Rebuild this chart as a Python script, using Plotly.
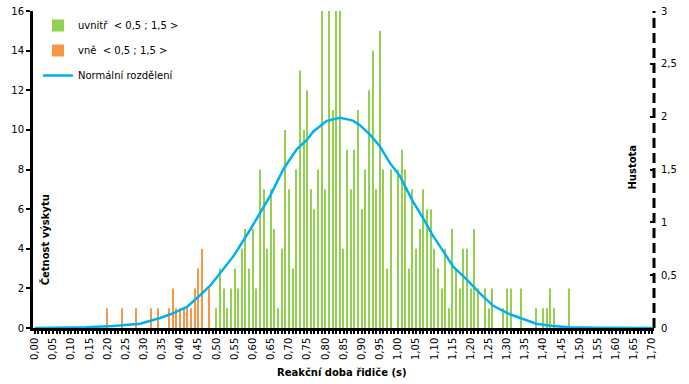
import plotly.graph_objects as go

# ---- data ----
bins = [round(i * 0.01, 2) for i in range(171)]  # 0.00 .. 1.70
counts = [
    0, 0, 0, 0, 0, 0, 0, 0, 0, 0,        # 0.00-0.09
    0, 0, 0, 0, 0, 0, 0, 0, 0, 0,        # 0.10-0.19
    1, 0, 0, 0, 1, 0, 0, 0, 1, 0,        # 0.20-0.29
    0, 0, 1, 0, 1, 0, 0, 1, 2, 1,        # 0.30-0.39
    1, 1, 1, 1, 2, 3, 4, 0, 2, 0,        # 0.40-0.49
    1, 3, 2, 1, 2, 3, 2, 4, 5, 3,        # 0.50-0.59
    5, 2, 8, 7, 4, 7, 5, 1, 4, 10,       # 0.60-0.69
    7, 3, 8, 13, 10, 12, 7, 6, 8, 16,    # 0.70-0.79
    7, 16, 11, 16, 16, 4, 9, 7, 9, 11,   # 0.80-0.89
    6, 8, 12, 14, 7, 15, 8, 3, 8, 0,     # 0.90-0.99
    8, 9, 8, 3, 7, 4, 5, 7, 6, 6,        # 1.00-1.09
    4, 3, 2, 4, 1, 5, 3, 2, 4, 4,        # 1.10-1.19
    2, 5, 2, 0, 2, 1, 2, 0, 0, 1,        # 1.20-1.29
    2, 2, 0, 0, 2, 0, 0, 0, 1, 0,        # 1.30-1.39
    1, 1, 2, 1, 0, 0, 0, 2, 0, 0,        # 1.40-1.49
    0, 0, 0, 0, 0, 0, 0, 0, 0, 0,        # 1.50-1.59
    0, 0, 0, 0, 0, 0, 0, 0, 0, 0,        # 1.60-1.69
    0,                                    # 1.70
]
inside_low, inside_high = 0.50, 1.50

density_x = [0.00, 0.10, 0.143, 0.217, 0.29, 0.345, 0.382, 0.419, 0.446, 0.455,
             0.483, 0.51, 0.547, 0.593, 0.639, 0.648, 0.684, 0.721, 0.749, 0.767,
             0.804, 0.840, 0.868, 0.877, 0.895, 0.923, 0.950, 0.978, 1.005, 1.039,
             1.069, 1.097, 1.124, 1.152, 1.189, 1.225, 1.253, 1.262, 1.308, 1.345,
             1.381, 1.427, 1.473, 1.55, 1.70]
density_y = [0.0, 0.002, 0.006, 0.02, 0.04, 0.095, 0.14, 0.20, 0.28, 0.31,
             0.40, 0.52, 0.68, 0.93, 1.20, 1.25, 1.50, 1.69, 1.78, 1.86,
             1.96, 1.99, 1.97, 1.96, 1.92, 1.83, 1.72, 1.56, 1.44, 1.21,
             1.04, 0.87, 0.73, 0.58, 0.46, 0.33, 0.24, 0.21, 0.13, 0.085,
             0.04, 0.02, 0.006, 0.002, 0.0]

x_tick_vals = [round(i * 0.05, 2) for i in range(35)]
x_tick_text = [f"{v:.2f}".replace(".", ",") for v in x_tick_vals]
y2_tick_vals = [0, 0.5, 1, 1.5, 2, 2.5, 3]
y2_tick_text = ["0", "0,5", "1", "1,5", "2", "2,5", "3"]

series_names = ["uvnitř  < 0,5 ; 1,5 >", "vně  < 0,5 ; 1,5 >", "Normální rozdělení"]

# ---- split series ----
in_x, in_y, out_x, out_y = [], [], [], []
for b, c in zip(bins, counts):
    if inside_low <= b <= inside_high:
        in_x.append(b); in_y.append(c)
    else:
        out_x.append(b); out_y.append(c)

FONT = "DejaVu Sans"
fig = go.Figure()
fig.add_trace(go.Bar(x=in_x, y=in_y, name=series_names[0], marker_color="#92D050",
                     marker_line_width=0, width=0.003, legendgroup="a"))
fig.add_trace(go.Bar(x=out_x, y=out_y, name=series_names[1], marker_color="#F79646",
                     marker_line_width=0, width=0.003, legendgroup="b"))
fig.add_trace(go.Scatter(x=density_x, y=density_y, name=series_names[2], mode="lines",
                         line=dict(color="#00B0F0", width=2.5), yaxis="y2", legendgroup="c"))

fig.update_layout(
    width=689, height=384,
    margin=dict(l=33, r=35, t=11, b=56, autoexpand=False),
    paper_bgcolor="white", plot_bgcolor="white",
    barmode="overlay",
    font=dict(family=FONT, size=10, color="black"),
    showlegend=True,
    legend=dict(x=0.008, y=1.0, xanchor="left", yanchor="top", bgcolor="rgba(0,0,0,0)",
                font=dict(size=10), tracegroupgap=6, itemwidth=30),
    xaxis=dict(range=[-0.005, 1.705], tickmode="array", tickvals=x_tick_vals,
               ticktext=x_tick_text, tickangle=-90, ticks="outside", ticklen=3,
               tickwidth=1.5, tickcolor="black", showline=True, linewidth=2.5,
               linecolor="black", showgrid=False, zeroline=False, automargin=False,
               minor=dict(dtick=0.01, tick0=0, ticks="outside", ticklen=3,
                          tickwidth=1.5, tickcolor="black", showgrid=False)),
    yaxis=dict(range=[0, 16], dtick=2, ticks="outside", ticklen=4, tickwidth=2,
               tickcolor="black", showline=True, linewidth=3, linecolor="black",
               showgrid=False, zeroline=False, automargin=False),
    yaxis2=dict(range=[0, 3], overlaying="y", side="right", tickmode="array",
                tickvals=y2_tick_vals, ticktext=y2_tick_text, ticks="inside",
                ticklen=4, tickwidth=2, tickcolor="black", showline=False,
                showgrid=False, zeroline=False, automargin=False, ticklabelstandoff=6),
    shapes=[dict(type="line", xref="paper", yref="paper", x0=1, x1=1, y0=0, y1=1,
                 line=dict(color="black", width=3, dash="10px,5px"))],
    annotations=[
        dict(text="<b>Četnost výskytu</b>", xref="paper", yref="paper", x=0.019, y=0.279,
             xanchor="center", yanchor="middle", textangle=-90, showarrow=False,
             font=dict(size=10)),
        dict(text="<b>Hustota</b>", xref="paper", yref="paper", x=0.966, y=0.509,
             xanchor="center", yanchor="middle", textangle=-90, showarrow=False,
             font=dict(size=10)),
        dict(text="<b>Reakční doba řidiče (s)</b>", xref="paper", yref="paper", x=0.496,
             y=-0.141, xanchor="center", yanchor="middle", showarrow=False,
             font=dict(size=10)),
    ],
)

fig.write_html("out.html", config={"displayModeBar": False},
               post_script="document.body.style.margin='0px';")
